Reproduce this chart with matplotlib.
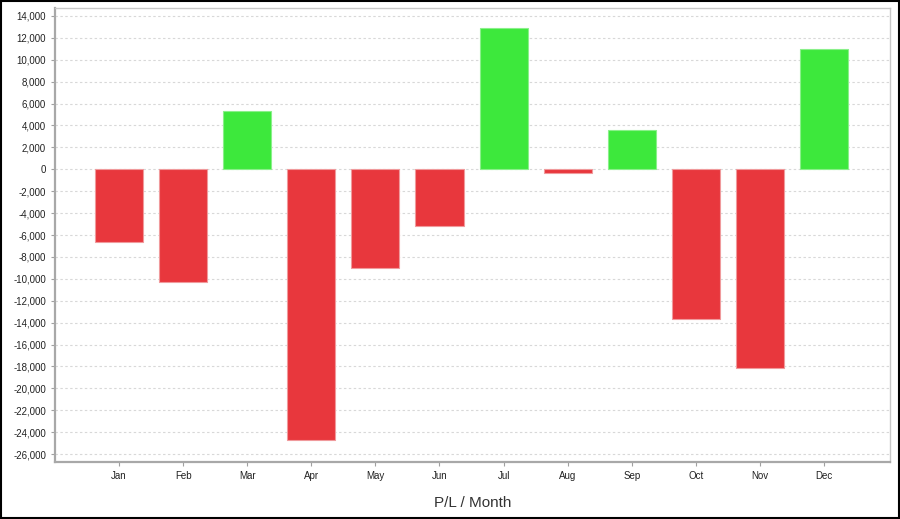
import matplotlib
matplotlib.use("Agg")
import matplotlib.pyplot as plt
from matplotlib.patches import Rectangle
from matplotlib.ticker import FuncFormatter

# monthly profit / loss
months = ["Jan", "Feb", "Mar", "Apr", "May", "Jun",
          "Jul", "Aug", "Sep", "Oct", "Nov", "Dec"]
pnl = [-6600, -10300, 5300, -24700, -9000, -5200,
       12900, -300, 3600, -13700, -18100, 11000]

plt.rcParams['font.family'] = ['Liberation Sans', 'DejaVu Sans']

fig = plt.figure(figsize=(9, 5.19), dpi=100)
ax = fig.add_axes([0.0611, 0.1098, 0.9278, 0.8748])

colors = ['#3de83c' if v >= 0 else '#e8373d' for v in pnl]
edges = ['#8af08a' if v >= 0 else '#f09a9c' for v in pnl]
x = list(range(len(months)))
ax.bar(x, pnl, width=0.75, color=colors, edgecolor=edges, linewidth=0.8, zorder=3)

ax.set_xlim(-1.0, 12.03)
ax.set_ylim(-26730, 14730)
ax.set_yticks(range(-26000, 14001, 2000))
ax.yaxis.set_major_formatter(FuncFormatter(lambda v, p: f"{int(v):,}"))
ax.set_xticks(x)
ax.set_xticklabels(months)

ax.grid(axis='y', color='#d8d8d8', linestyle=(0, (2.2, 2.2)), linewidth=0.8, zorder=0)
ax.tick_params(axis='both', labelsize=7, colors='#222222', length=3, width=0.8)
ax.tick_params(axis='both', color='#a0a0a0')
ax.tick_params(axis='x', pad=3.5)

for side in ['left', 'bottom']:
    ax.spines[side].set_color('#a8a8a8')
    ax.spines[side].set_linewidth(1.6)
for side in ['top', 'right']:
    ax.spines[side].set_color('#c8c8c8')
    ax.spines[side].set_linewidth(1.0)

ax.set_xlabel("P/L / Month", fontsize=11, color='#333333', labelpad=10.5)

# black frame round the whole picture
fig.patches.append(Rectangle((0.001, 0.001), 0.998, 0.997, transform=fig.transFigure,
                             fill=False, edgecolor='black', linewidth=1.5))

fig.savefig("out.png", dpi=100)
